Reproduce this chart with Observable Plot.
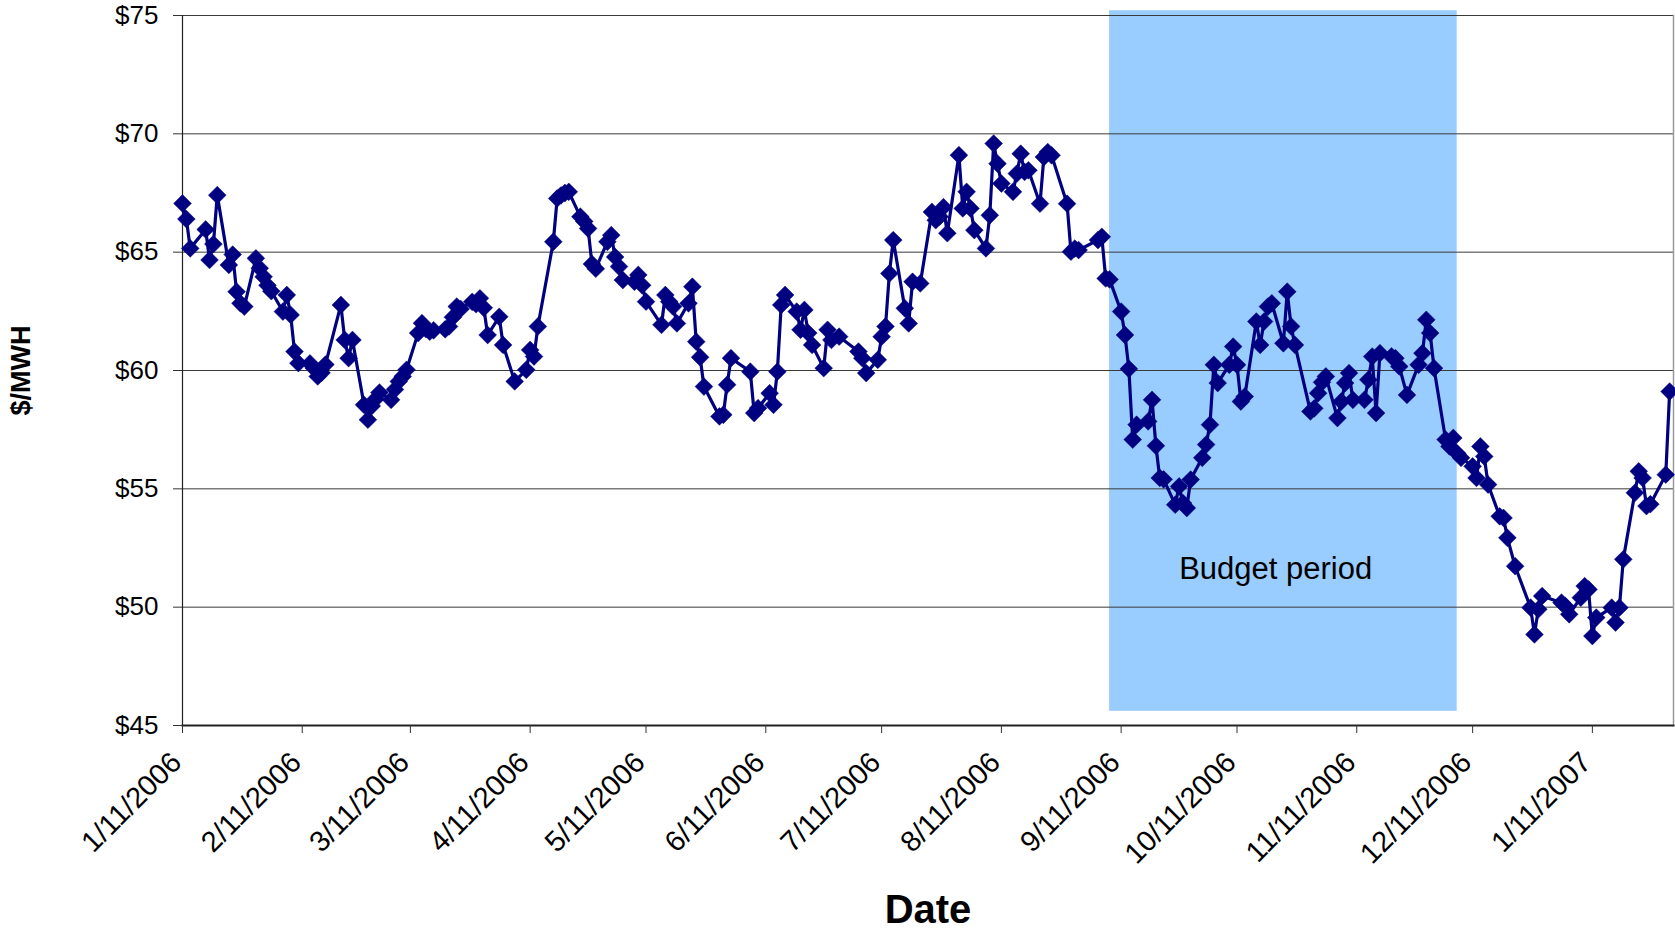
<!DOCTYPE html>
<html>
<head>
<meta charset="utf-8">
<script src="https://cdn.jsdelivr.net/npm/d3@7"></script>
<script src="https://cdn.jsdelivr.net/npm/@observablehq/plot@0.6"></script>
<style>
  html, body { margin: 0; padding: 0; background: #ffffff; }
  #chart svg { display: block; }
</style>
</head>
<body>
<div id="chart"></div>
<script>
// ---- Data ----
const dates = [
  "2006-01-11","2006-01-12","2006-01-13","2006-01-17","2006-01-18","2006-01-19","2006-01-20",
  "2006-01-23","2006-01-24","2006-01-25","2006-01-26","2006-01-27","2006-01-30","2006-01-31",
  "2006-02-01","2006-02-02","2006-02-03","2006-02-06","2006-02-07","2006-02-08","2006-02-09",
  "2006-02-10","2006-02-13","2006-02-14","2006-02-15","2006-02-16","2006-02-17","2006-02-21",
  "2006-02-22","2006-02-23","2006-02-24","2006-02-27","2006-02-28","2006-03-01","2006-03-02",
  "2006-03-03","2006-03-06","2006-03-07","2006-03-08","2006-03-09","2006-03-10","2006-03-13",
  "2006-03-14","2006-03-15","2006-03-16","2006-03-17","2006-03-20","2006-03-21","2006-03-22",
  "2006-03-23","2006-03-24","2006-03-27","2006-03-28","2006-03-29","2006-03-30","2006-03-31",
  "2006-04-03","2006-04-04","2006-04-07","2006-04-10","2006-04-11","2006-04-12","2006-04-13",
  "2006-04-17","2006-04-18","2006-04-19","2006-04-20","2006-04-21","2006-04-24","2006-04-25",
  "2006-04-26","2006-04-27","2006-04-28","2006-05-01","2006-05-02","2006-05-03","2006-05-04",
  "2006-05-05","2006-05-08","2006-05-09","2006-05-10","2006-05-11","2006-05-15","2006-05-16",
  "2006-05-17","2006-05-18","2006-05-19","2006-05-22","2006-05-23","2006-05-24","2006-05-25",
  "2006-05-26","2006-05-30","2006-05-31","2006-06-01","2006-06-02","2006-06-07","2006-06-08",
  "2006-06-09","2006-06-12","2006-06-13","2006-06-14","2006-06-15","2006-06-16","2006-06-19",
  "2006-06-20","2006-06-21","2006-06-22","2006-06-23","2006-06-26","2006-06-27","2006-06-28",
  "2006-06-30","2006-07-05","2006-07-06","2006-07-07","2006-07-10","2006-07-11","2006-07-12",
  "2006-07-13","2006-07-14","2006-07-17","2006-07-18","2006-07-19","2006-07-21","2006-07-24",
  "2006-07-25","2006-07-26","2006-07-27","2006-07-28","2006-07-31","2006-08-01","2006-08-02",
  "2006-08-03","2006-08-04","2006-08-07","2006-08-08","2006-08-09","2006-08-10","2006-08-11",
  "2006-08-14","2006-08-15","2006-08-16","2006-08-17","2006-08-18","2006-08-21","2006-08-22",
  "2006-08-23","2006-08-24","2006-08-28","2006-08-29","2006-08-30","2006-08-31","2006-09-05",
  "2006-09-06","2006-09-07","2006-09-08","2006-09-11","2006-09-12","2006-09-13","2006-09-14",
  "2006-09-15","2006-09-18","2006-09-19","2006-09-20","2006-09-21","2006-09-22","2006-09-25",
  "2006-09-26","2006-09-27","2006-09-28","2006-09-29","2006-10-02","2006-10-03","2006-10-04",
  "2006-10-05","2006-10-06","2006-10-09","2006-10-10","2006-10-11","2006-10-12","2006-10-13",
  "2006-10-16","2006-10-17","2006-10-18","2006-10-19","2006-10-20","2006-10-23","2006-10-24",
  "2006-10-25","2006-10-26","2006-10-30","2006-10-31","2006-11-01","2006-11-02","2006-11-03",
  "2006-11-06","2006-11-07","2006-11-08","2006-11-09","2006-11-10","2006-11-13","2006-11-14",
  "2006-11-15","2006-11-16","2006-11-17","2006-11-20","2006-11-21","2006-11-22","2006-11-24",
  "2006-11-27","2006-11-28","2006-11-29","2006-11-30","2006-12-01","2006-12-04","2006-12-05",
  "2006-12-06","2006-12-07","2006-12-08","2006-12-11","2006-12-12","2006-12-13","2006-12-14",
  "2006-12-15","2006-12-18","2006-12-19","2006-12-20","2006-12-22","2006-12-26","2006-12-27",
  "2006-12-28","2006-12-29","2007-01-03","2007-01-04","2007-01-05","2007-01-08","2007-01-09",
  "2007-01-10","2007-01-11","2007-01-12","2007-01-16","2007-01-17","2007-01-18","2007-01-19",
  "2007-01-22","2007-01-23","2007-01-24","2007-01-25","2007-01-26","2007-01-30","2007-01-31"
];

const prices = [
  67.06,66.40,65.16,65.96,64.67,65.34,67.41,
  64.46,64.90,63.33,62.84,62.70,64.74,64.32,
  63.96,63.60,63.35,62.49,63.19,62.35,60.80,
  60.31,60.30,60.10,59.75,59.90,60.25,62.77,
  61.29,60.52,61.29,58.55,57.92,58.50,58.80,
  59.07,58.76,59.20,59.54,59.75,60.03,61.58,
  62.00,61.75,61.64,61.70,61.74,61.86,62.25,
  62.70,62.60,62.90,62.80,63.05,62.65,61.50,
  62.27,61.08,59.54,60.03,60.87,60.59,61.86,
  65.44,67.27,67.40,67.50,67.55,66.50,66.30,
  66.00,64.50,64.30,65.44,65.72,64.80,64.39,
  63.82,63.75,64.04,63.60,62.91,61.93,63.19,
  62.91,62.70,61.99,62.84,63.54,61.22,60.56,
  59.32,58.06,58.13,59.40,60.52,59.95,58.20,
  58.41,59.04,58.55,59.95,62.77,63.19,62.49,
  61.72,62.56,61.58,61.08,60.10,61.72,61.29,
  61.43,60.80,60.52,59.89,60.45,61.43,61.86,
  64.10,65.51,62.63,61.99,63.75,63.68,66.70,
  66.35,66.50,66.90,65.80,69.10,66.85,67.55,
  66.85,65.93,65.16,66.56,69.59,68.74,67.90,
  67.55,68.32,69.16,68.39,68.46,67.05,69.02,
  69.23,69.09,67.05,65.02,65.15,65.09,65.51,
  65.65,63.89,63.85,62.49,61.50,60.07,57.08,
  57.71,57.85,58.76,56.82,55.46,55.40,54.33,
  55.10,54.40,54.19,55.39,56.31,56.87,57.71,
  60.24,59.47,60.24,61.01,60.24,58.69,58.90,
  62.07,61.08,62.07,62.70,62.84,61.15,63.33,
  61.86,61.08,58.27,58.40,59.04,59.50,59.75,
  57.99,58.69,59.47,59.89,58.76,58.76,59.61,
  60.59,58.20,60.73,60.60,60.52,60.17,58.97,
  60.24,60.73,62.14,61.58,60.10,57.08,56.79,
  57.15,56.50,56.31,55.95,55.46,56.79,56.37,
  55.18,53.84,53.77,52.93,51.73,49.98,48.85,
  49.91,50.47,50.19,50.05,49.70,50.40,50.89,
  50.75,48.78,49.56,49.98,49.35,49.98,52.02,
  54.83,55.74,55.46,54.27,54.35,55.60,59.11
];

const xTickDates = [
  "2006-01-11","2006-02-11","2006-03-11","2006-04-11","2006-05-11","2006-06-11","2006-07-11",
  "2006-08-11","2006-09-11","2006-10-11","2006-11-11","2006-12-11","2007-01-11"
];
const xDomain = ["2006-01-11", "2007-02-01"];
const yTicks = [45, 50, 55, 60, 65, 70, 75];

const budgetStart = "2006-09-08";
const budgetEnd = "2006-12-07";
const budgetLow = 45.6;
const budgetHigh = 75.2;
const budgetLabel = "Budget period";
const budgetLabelDate = "2006-10-21";
const budgetLabelValue = 51.6;

const xTitle = "Date";
const yTitle = "$/MWH";

// ---- Build table ----
const parse = s => new Date(s + "T00:00:00Z");
const series = dates.map((d, i) => ({date: parse(d), price: prices[i]}));
const ticks = xTickDates.map(parse);
const fmtDate = d => `${d.getUTCMonth() + 1}/${d.getUTCDate()}/${d.getUTCFullYear()}`;

const navy = "#000080";
const font = "'Liberation Sans', Arial, Helvetica, sans-serif";

const chart = Plot.plot({
  width: 1675,
  height: 930,
  marginLeft: 182,
  marginRight: 2,
  marginTop: 15,
  marginBottom: 205,
  style: {fontFamily: font, fontSize: "26px", background: "#ffffff", color: "#000000"},
  x: {type: "utc", domain: xDomain.map(parse), label: null},
  y: {domain: [45, 75], label: null},
  marks: [
    Plot.rect([{x1: parse(budgetStart), x2: parse(budgetEnd), y1: budgetLow, y2: budgetHigh}],
      {x1: "x1", x2: "x2", y1: "y1", y2: "y2", fill: "#99CCFF"}),
    Plot.ruleY(yTicks, {stroke: "#3a3a3a", strokeWidth: 1}),
    Plot.frame({anchor: "left", stroke: "#222", strokeWidth: 1.2}),
    Plot.frame({anchor: "right", stroke: "#9a9a9a", strokeWidth: 1.5}),
    Plot.frame({anchor: "bottom", stroke: "#222", strokeWidth: 2}),
    Plot.axisY(yTicks, {tickSize: 9, tickPadding: 15, tickFormat: d => "$" + d, fontSize: 26, stroke: "#333", label: null}),
    Plot.axisX(ticks, {tickSize: 8, tickFormat: () => "", stroke: "#333", label: null}),
    Plot.text(ticks, {x: d => d, frameAnchor: "bottom", text: fmtDate, rotate: -45,
      textAnchor: "end", lineAnchor: "middle", dx: -6, dy: 32, fontSize: 29, fill: "#000"}),
    Plot.line(series, {x: "date", y: "price", stroke: navy, strokeWidth: 3.2, strokeLinejoin: "round"}),
    Plot.dot(series, {x: "date", y: "price", symbol: "diamond2", r: 8, fill: navy, stroke: navy, strokeWidth: 0.5}),
    Plot.text([budgetLabel], {x: parse(budgetLabelDate), y: budgetLabelValue, text: d => d,
      fontSize: 31, fill: "#000", lineAnchor: "middle", textAnchor: "middle"}),
    Plot.text([xTitle], {frameAnchor: "bottom", text: d => d, dy: 185, fontSize: 40, fontWeight: "bold",
      lineAnchor: "middle", textAnchor: "middle", fill: "#000"}),
    Plot.text([yTitle], {frameAnchor: "left", text: d => d, dx: -161, rotate: -90, fontSize: 27,
      fontWeight: "bold", lineAnchor: "middle", textAnchor: "middle", fill: "#000"})
  ]
});

document.getElementById("chart").appendChild(chart);
</script>
</body>
</html>
